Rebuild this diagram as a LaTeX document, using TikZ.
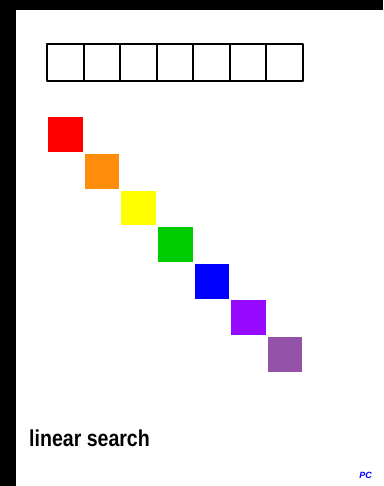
\documentclass[tikz,border=0pt]{standalone}
\usepackage{fontspec}
\setmainfont{Liberation Sans}
\definecolor{sqred}{HTML}{FF0000}
\definecolor{sqorange}{HTML}{FF8C0A}
\definecolor{sqyellow}{HTML}{FFFF00}
\definecolor{sqgreen}{HTML}{00CC00}
\definecolor{sqblue}{HTML}{0000FF}
\definecolor{sqviolet}{HTML}{960AFF}
\definecolor{sqpurple}{HTML}{9452A8}
\begin{document}
\begin{tikzpicture}[x=1pt, y=-1pt, line join=round,
  cell/.style={draw, line width=2.2pt, minimum width=36.5pt, minimum height=37pt, inner sep=0pt},
  square/.style={minimum size=34.7pt, inner sep=0pt}]
\def\cw{36.5}\def\sq{36.6}
\fill[black] (0,0) rectangle (383,486);
\fill[white] (16,10) rectangle (383,486);
\useasboundingbox (0,0) rectangle (383,486);
\foreach \i in {1,...,7}
  \node[cell] (cell\i) at ({47.3+\cw*(\i-0.5)},62.5) {};
\foreach \c [count=\i] in {sqred,sqorange,sqyellow,sqgreen,sqblue,sqviolet,sqpurple}
  \node[square, fill=\c] (sq\i) at ({65.5+\sq*(\i-1)},{134.8+\sq*(\i-1)}) {};
\node[anchor=base west, inner sep=0pt, font=\bfseries\fontsize{23}{23}\selectfont] (title) at (29,446) {\scalebox{0.85}[1]{linear search}};
\node[anchor=base east, inner sep=0pt, text=blue, font=\bfseries\itshape\fontsize{9}{9}\selectfont] (mark) at (372,478) {PC};
\end{tikzpicture}
\end{document}
